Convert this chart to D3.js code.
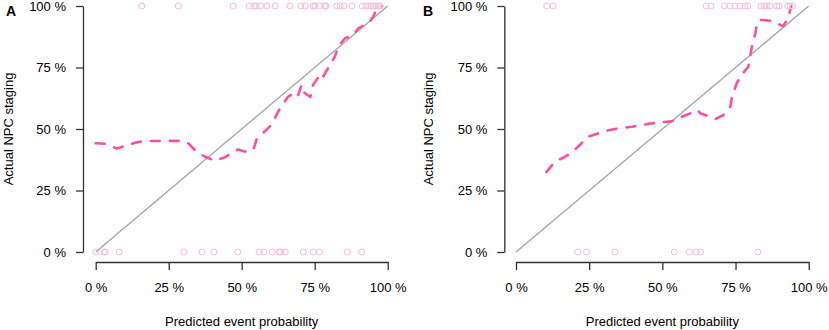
<!DOCTYPE html>
<html lang="en">
<head>
    <meta charset="UTF-8">
    <title>Calibration curves</title>
    <script src="https://d3js.org/d3.v7.min.js"></script>
    <style>
        body {
            margin: 0;
            background: #fff;
            font-family: "Liberation Sans", Arial, sans-serif;
        }
        .axis text {
            font-size: 13px;
            font-family: "Liberation Sans", Arial, sans-serif;
            fill: #000;
        }
        .axis path, .axis line {
            stroke: #333;
            stroke-width: 1.3;
        }
    </style>
</head>
<body>
    <script>
        // tick labels (both axes)
        const tickVals = [0, 0.25, 0.5, 0.75, 1];

        // panel A calibration curve (predicted %, actual %)
        const curveA_x = [0, 3.2, 7.2, 13.5, 16.9, 20.8, 29.4, 31.7, 34.5, 37.9, 40.8, 44.3, 48.8, 51.1, 54.0, 55.1,
            57.2, 60.1, 63.1, 66.0, 66.8, 69.0, 70.5, 71.2, 73.5, 74.5, 76.8, 77.3, 77.9, 80.2, 81.9, 83.1, 85.4,
            88.2, 89.9, 93.4, 95.1, 96.0, 97.6, 98.0];
        const curveA_y = [44.2, 44.0, 42.1, 44.4, 45.2, 45.1, 45.2, 44.2, 40.8, 38.5, 37.1, 38.5, 41.7, 40.8, 41.5, 45.8,
            48.2, 51.6, 58.4, 63.3, 63.8, 62.6, 67.9, 65.0, 63.0, 68.0, 72.0, 72.6, 71.3, 76.0, 79.4, 83.5, 86.9,
            88.2, 90.9, 93.0, 95.6, 98.4, 99.7, 100];
        // panel A rug of observed outcomes
        const rugA_top = [15.8, 28.3, 47.1, 52.6, 54.2, 54.9, 56.5, 58.6, 61.5, 66.5, 70.2, 71.8, 74.5, 75.1, 76.6,
            78.5, 78.9, 82.5, 83.7, 85, 87.7, 91.3, 92.5, 93.4, 94.2, 95.1, 96, 96.8, 97.4];
        const rugA_bottom = [0, 2.9, 3.3, 8, 30.2, 36.4, 40.5, 48.6, 56, 57.7, 60.5, 62.8, 63.4, 64.9, 71.1, 74.5,
            76.6, 86.2, 91.1];

        // panel B calibration curve
        const curveB_x = [10.4, 13.3, 16.7, 19.5, 22.4, 24.1, 28.0, 32.0, 35.5, 39.5, 42.9, 46.3, 49.8, 53.2, 56.7,
            60.1, 62.1, 62.9, 65.2, 68.1, 70.9, 73.2, 73.8, 75.4, 77.1, 79.4, 80.0, 80.6, 81.8, 82.3, 83.4, 84.5,
            86.8, 88.0, 90.3, 91.3, 93.0, 93.7, 94.0];
        const curveB_y = [32.5, 36.7, 38.7, 40.8, 44.2, 46.6, 48.2, 49.6, 50.3, 50.9, 51.6, 52.3, 52.8, 53.1, 55.0,
            56.6, 57.7, 56.4, 55.5, 54.0, 55.7, 59.0, 63.1, 68.6, 72.0, 75.3, 79.4, 83.5, 88.9, 93.0, 94.3, 94.3,
            94.0, 93.6, 92.3, 91.9, 95.0, 98.4, 100];
        const rugB_top = [10.5, 12.7, 64.9, 66.6, 71.2, 73.1, 74.8, 76.5, 78.2, 79.2, 83.7, 84.8, 85.6, 86.8, 89.1,
            89.9, 92.8, 93.6, 94.5];
        const rugB_bottom = [21.1, 24.1, 33.8, 54.1, 59.2, 61.5, 63.1, 82.6];

        const panels = [
            { tag: "A", cx: curveA_x, cy: curveA_y, top: rugA_top, bottom: rugA_bottom,
              x0: 95.7, x1: 387.7, yAxisX: 83, yTitleX: 13, tagX: 6 },
            { tag: "B", cx: curveB_x, cy: curveB_y, top: rugB_top, bottom: rugB_bottom,
              x0: 516, x1: 808.7, yAxisX: 504.3, yTitleX: 433, tagX: 423 }
        ];

        const W = 829, H = 330;
        const yTop = 6, yBottom = 252, xAxisY = 262;
        const pct = d3.format(".0%");
        const fmt = d => pct(d).replace("%", " %");

        const svg = d3.select("body").append("svg")
            .attr("width", W)
            .attr("height", H);

        panels.forEach(p => {
            const x = d3.scaleLinear().domain([0, 1]).range([p.x0, p.x1]);
            const y = d3.scaleLinear().domain([0, 1]).range([yBottom, yTop]);
            const g = svg.append("g");

            // ideal line
            g.append("line")
                .attr("x1", x(0)).attr("y1", y(0))
                .attr("x2", x(1)).attr("y2", y(1))
                .attr("stroke", "#a6a6a6")
                .attr("stroke-width", 1.4);

            // calibration curve
            const pts = p.cx.map((v, i) => [v / 100, p.cy[i] / 100]);
            g.append("path")
                .datum(pts)
                .attr("fill", "none")
                .attr("stroke", "#ff4fa3")
                .attr("stroke-width", 2.6)
                .attr("stroke-linecap", "round")
                .attr("stroke-linejoin", "round")
                .attr("stroke-dasharray", "9,10")
                .attr("d", d3.line().x(d => x(d[0])).y(d => y(d[1])));

            // rugs of outcomes
            const rug = p.top.map(v => [v / 100, 1]).concat(p.bottom.map(v => [v / 100, 0]));
            g.selectAll(".rug")
                .data(rug)
                .enter()
                .append("circle")
                .attr("class", "rug")
                .attr("cx", d => x(d[0]))
                .attr("cy", d => y(d[1]))
                .attr("r", 3)
                .attr("fill", "none")
                .attr("stroke", "#f8bcd9")
                .attr("stroke-width", 1);

            // axes
            g.append("g")
                .attr("class", "axis")
                .attr("transform", `translate(${p.yAxisX},0)`)
                .call(d3.axisLeft(y).tickValues(tickVals).tickFormat(fmt)
                    .tickSize(7).tickSizeOuter(0).tickPadding(10));

            g.append("g")
                .attr("class", "axis")
                .attr("transform", `translate(0,${xAxisY})`)
                .call(d3.axisBottom(x).tickValues(tickVals).tickFormat(fmt)
                    .tickSize(8).tickSizeOuter(0).tickPadding(13));

            // titles
            g.append("text")
                .attr("x", (p.x0 + p.x1) / 2)
                .attr("y", 326)
                .attr("text-anchor", "middle")
                .style("font-size", "13px")
                .text("Predicted event probability");

            g.append("text")
                .attr("transform", `translate(${p.yTitleX},${(yTop + yBottom) / 2}) rotate(-90)`)
                .attr("text-anchor", "middle")
                .style("font-size", "13px")
                .text("Actual NPC staging");

            g.append("text")
                .attr("x", p.tagX)
                .attr("y", 16)
                .style("font-size", "14px")
                .style("font-weight", "bold")
                .text(p.tag);
        });
    </script>
</body>
</html>
